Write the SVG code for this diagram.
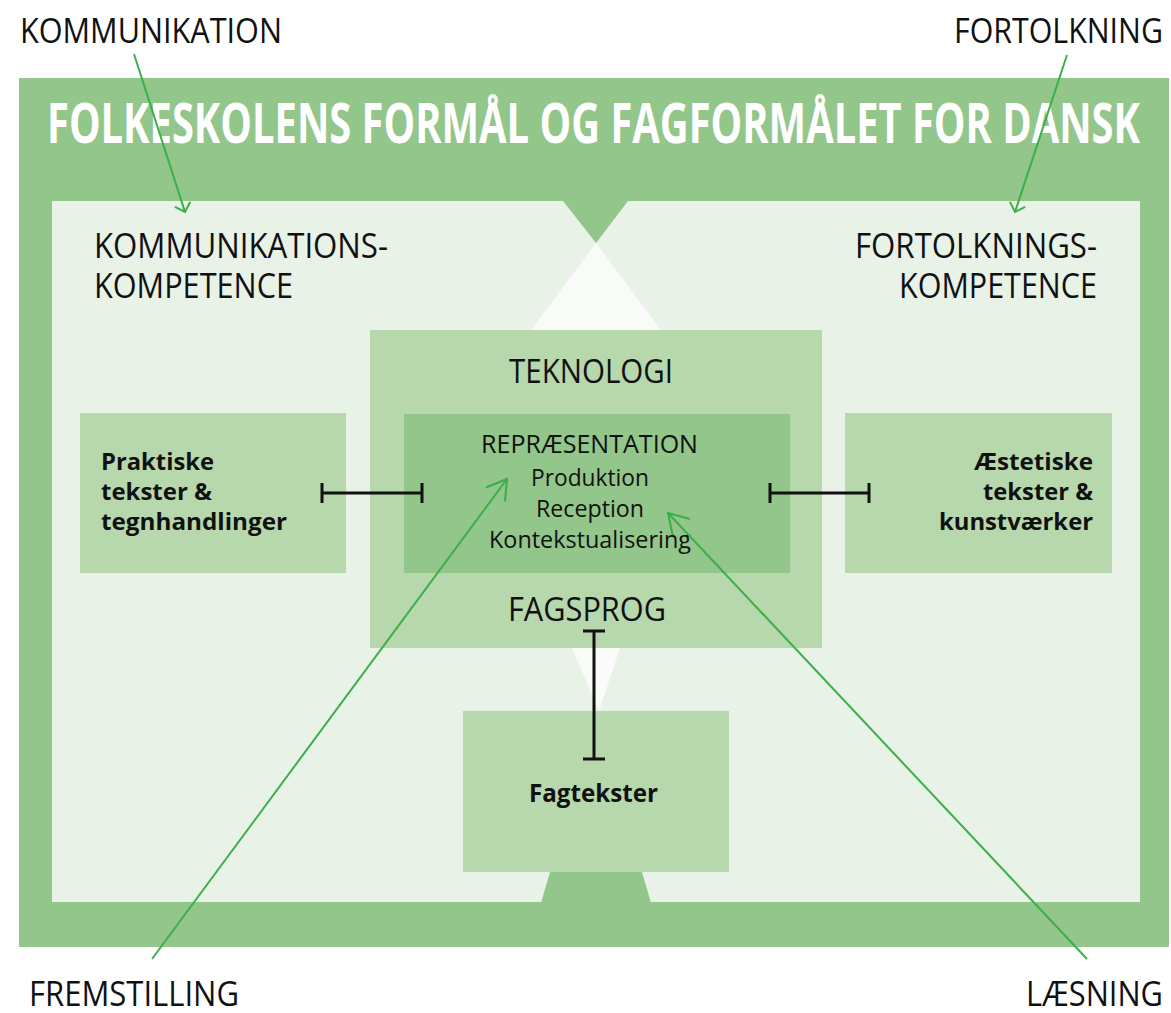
<svg xmlns="http://www.w3.org/2000/svg" width="1171" height="1013" viewBox="0 0 1171 1013">
<defs>
<style>
.lbl{font-family:"Open Sans","Liberation Sans",sans-serif;fill:#111;}
.bold{font-family:"Open Sans","Liberation Sans",sans-serif;font-weight:bold;fill:#111;}
.title{font-family:"Open Sans","Liberation Sans",sans-serif;font-weight:bold;fill:#fff;font-size:56px;}
.box{fill:#b6d8ac;}
.dark{fill:#93c68a;}
.arrow{fill:none;stroke:#3cae4a;stroke-width:2;}
.ibeam{fill:none;stroke:#111;stroke-width:3;}
</style>
<marker id="headS" markerUnits="userSpaceOnUse" markerWidth="20" markerHeight="20" viewBox="-12 -10 14 20" refX="0" refY="0" orient="auto">
<path d="M -8 -8 L 0 0 L -8 8" fill="none" stroke="#3cae4a" stroke-width="2"/>
</marker>
<marker id="headL" markerUnits="userSpaceOnUse" markerWidth="30" markerHeight="30" viewBox="-22 -14 25 28" refX="0" refY="0" orient="auto">
<path d="M -18 -11 L 0 0 L -18 11" fill="none" stroke="#3cae4a" stroke-width="2"/>
</marker>
</defs>
<rect width="1171" height="1013" fill="#fff"/>
<g id="frame">
<rect x="19" y="78" width="1150" height="869" fill="#93c68a"/>
<rect x="52" y="201" width="1088" height="701" fill="#e8f2e7"/>
<polygon points="563,201 628,201 596,243" fill="#93c68a"/>
<polygon points="596,243 531,330 661,330" fill="#f8fbf7"/>
<polygon points="572,648 620,648 599,711" fill="#f8fbf7"/>
<polygon points="550,872 642,872 651,903 541,903" fill="#93c68a"/>
<text class="title" x="593.5" y="143" text-anchor="middle" textLength="1093" lengthAdjust="spacingAndGlyphs">FOLKESKOLENS FORMÅL OG FAGFORMÅLET FOR DANSK</text>
</g>
<g id="labels-outer">
<text class="lbl" x="20" y="43" font-size="35" textLength="262" lengthAdjust="spacingAndGlyphs">KOMMUNIKATION</text>
<text class="lbl" x="1163" y="43" font-size="35" text-anchor="end" textLength="209" lengthAdjust="spacingAndGlyphs">FORTOLKNING</text>
<text class="lbl" x="29" y="1006" font-size="34" textLength="210" lengthAdjust="spacingAndGlyphs">FREMSTILLING</text>
<text class="lbl" x="1163" y="1006" font-size="34" text-anchor="end" textLength="137" lengthAdjust="spacingAndGlyphs">LÆSNING</text>
</g>
<g id="kommunikationskompetence">
<text class="lbl" x="94" y="258" font-size="35" textLength="294" lengthAdjust="spacingAndGlyphs">KOMMUNIKATIONS-</text>
<text class="lbl" x="94" y="298" font-size="35" textLength="199" lengthAdjust="spacingAndGlyphs">KOMPETENCE</text>
</g>
<g id="fortolkningskompetence">
<text class="lbl" x="1097" y="258" font-size="35" text-anchor="end" textLength="242" lengthAdjust="spacingAndGlyphs">FORTOLKNINGS-</text>
<text class="lbl" x="1097" y="298" font-size="35" text-anchor="end" textLength="198" lengthAdjust="spacingAndGlyphs">KOMPETENCE</text>
</g>
<g id="teknologi">
<rect class="box" x="370" y="330" width="452" height="318"/>
<text class="lbl" x="509" y="383" font-size="33" textLength="164" lengthAdjust="spacingAndGlyphs">TEKNOLOGI</text>
<text class="lbl" x="508" y="621" font-size="33" textLength="158" lengthAdjust="spacingAndGlyphs">FAGSPROG</text>
</g>
<g id="repraesentation">
<rect class="dark" x="404" y="414" width="386" height="159"/>
<text class="lbl" x="481" y="453" font-size="25" textLength="217" lengthAdjust="spacingAndGlyphs">REPRÆSENTATION</text>
<text class="lbl" x="531" y="486" font-size="24" textLength="118" lengthAdjust="spacingAndGlyphs">Produktion</text>
<text class="lbl" x="536" y="517" font-size="24" textLength="108" lengthAdjust="spacingAndGlyphs">Reception</text>
<text class="lbl" x="489" y="548" font-size="24" textLength="202" lengthAdjust="spacingAndGlyphs">Kontekstualisering</text>
</g>
<g id="praktiske">
<rect class="box" x="80" y="413" width="266" height="160"/>
<text class="bold" x="101" y="470" font-size="24" textLength="113" lengthAdjust="spacingAndGlyphs">Praktiske</text>
<text class="bold" x="101" y="500" font-size="24" textLength="111" lengthAdjust="spacingAndGlyphs">tekster &amp;</text>
<text class="bold" x="101" y="530" font-size="24" textLength="186" lengthAdjust="spacingAndGlyphs">tegnhandlinger</text>
</g>
<g id="aestetiske">
<rect class="box" x="845" y="413" width="267" height="160"/>
<text class="bold" x="1093" y="470" font-size="24" text-anchor="end" textLength="119" lengthAdjust="spacingAndGlyphs">Æstetiske</text>
<text class="bold" x="1093" y="500" font-size="24" text-anchor="end" textLength="110" lengthAdjust="spacingAndGlyphs">tekster &amp;</text>
<text class="bold" x="1093" y="530" font-size="24" text-anchor="end" textLength="154" lengthAdjust="spacingAndGlyphs">kunstværker</text>
</g>
<g id="fagtekster">
<rect class="box" x="463" y="711" width="266" height="161"/>
<text class="bold" x="529" y="802" font-size="25" textLength="129" lengthAdjust="spacingAndGlyphs">Fagtekster</text>
</g>
<g id="connectors">
<path class="ibeam" d="M322 493 H422 M322 483 V503 M422 483 V503"/>
<path class="ibeam" d="M770 493 H869 M770 483 V503 M869 483 V503"/>
<path class="ibeam" d="M594 631 V759 M583 631 H605 M583 759 H605"/>
<line class="arrow" x1="134" y1="54" x2="185" y2="212" marker-end="url(#headS)"/>
<line class="arrow" x1="1067" y1="55" x2="1015" y2="212" marker-end="url(#headS)"/>
<line class="arrow" x1="152" y1="959" x2="507" y2="479" marker-end="url(#headL)"/>
<line class="arrow" x1="1087" y1="959" x2="668" y2="513" marker-end="url(#headL)"/>
</g>
</svg>
